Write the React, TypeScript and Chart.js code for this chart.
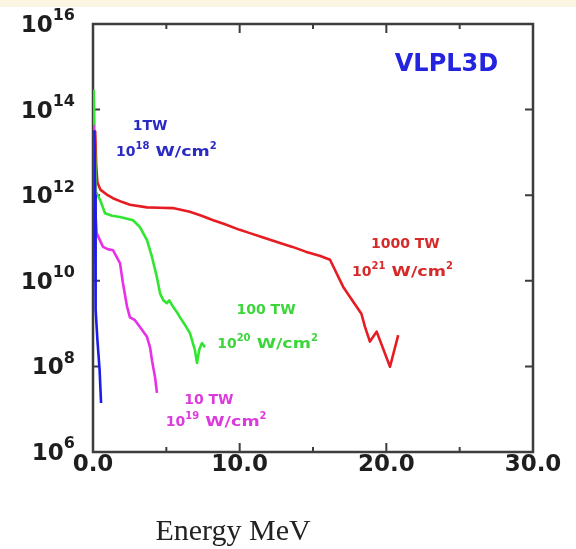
import React, { useEffect, useRef } from 'react';
import { Chart, registerables } from 'chart.js';

Chart.register(...registerables);

// ---- axis ticks ----
const energyTicks = [0, 5, 10, 15, 20, 25, 30];
const energyTickLabels = ['0.0', '', '10.0', '', '20.0', '', '30.0'];
const countExponents = [6, 8, 10, 12, 14, 16];
const xAxisTitle = 'Energy MeV';
const chartTag = 'VLPL3D';

// ---- series: 1 TW (blue) ----
const blueEnergy = [0.1, 0.14, 0.16, 0.2, 0.3, 0.45, 0.55];
const blueCounts = [3.3e13, 1.0e12, 3.0e10, 2.1e9, 4.2e8, 8.3e7, 1.4e7];

// ---- series: 10 TW (magenta) ----
const magentaEnergy = [0.03, 0.1, 0.15, 0.25, 0.68, 1.0, 1.36, 1.84, 2.04, 2.32, 2.52, 2.86, 3.2, 3.68, 3.89, 4.02, 4.23, 4.36];
const magentaCounts = [4.4e13, 1.0e13, 5.0e11, 1.3e11, 6.2e10, 5.5e10, 5.2e10, 2.6e10, 8.9e9, 2.5e9, 1.4e9, 1.2e9, 8.3e8, 4.9e8, 2.8e8, 1.4e8, 5.6e7, 2.4e7];

// ---- series: 100 TW (green) ----
const greenEnergy = [0.05, 0.1, 0.2, 0.48, 0.82, 1.3, 1.84, 2.73, 3.2, 3.68, 4.02, 4.36, 4.57, 4.8, 5.04, 5.2, 5.45, 5.7, 5.93, 6.3, 6.61, 6.95, 7.09, 7.25, 7.43, 7.63];
const greenCounts = [2.9e14, 3.0e13, 1.2e12, 7.8e11, 3.8e11, 3.3e11, 3.1e11, 2.6e11, 1.8e11, 8.9e10, 3.6e10, 1.2e10, 5.1e9, 3.5e9, 3.0e9, 3.5e9, 2.5e9, 1.9e9, 1.4e9, 9.0e8, 6.0e8, 2.4e8, 1.2e8, 2.5e8, 3.5e8, 2.8e8];

// ---- series: 1000 TW (red) ----
const redEnergy = [0.15, 0.22, 0.3, 0.5, 1.0, 1.36, 2.0, 2.52, 3.68, 4.5, 5.45, 6.6, 7.4, 8.2, 9.0, 10.0, 10.7, 11.5, 12.75, 13.6, 14.5, 15.5, 16.16, 17.06, 18.3, 18.54, 18.88, 19.34, 20.25, 20.81];
const redCounts = [3.2e13, 5.0e12, 2.0e12, 1.35e12, 1.0e12, 8.5e11, 6.9e11, 6.0e11, 5.2e11, 5.1e11, 5.0e11, 4.1e11, 3.3e11, 2.6e11, 2.1e11, 1.55e11, 1.3e11, 1.05e11, 7.6e10, 6.2e10, 4.8e10, 3.8e10, 3.1e10, 7.2e9, 1.7e9, 8.5e8, 3.8e8, 6.5e8, 9.8e7, 5.4e8];

const seriesNames = ['1TW', '10 TW', '100 TW', '1000 TW'];
const seriesIntensityExp = ['18', '19', '20', '21'];
const seriesColors = ['#1c1ce6', '#e830e8', '#30e630', '#e61c22'];
const labelColors = ['#2a2ac4', '#dc3adc', '#3cd63c', '#d62a2a'];

const BOLD = '"DejaVu Sans", "Liberation Sans", sans-serif';

type Part = { t: string; sup?: boolean; sx?: number };

function toPoints(xs: number[], ys: number[]) {
  return xs.map((x, i) => ({ x, y: ys[i] }));
}

function drawRich(ctx: CanvasRenderingContext2D, parts: Part[], cx: number, cy: number, size: number, supSize: number, align: 'center' | 'right' | 'left') {
  ctx.save();
  ctx.textBaseline = 'middle';
  ctx.textAlign = 'left';
  const widths = parts.map((p) => {
    ctx.font = `bold ${p.sup ? supSize : size}px ${BOLD}`;
    return ctx.measureText(p.t).width * (p.sx || 1);
  });
  const total = widths.reduce((a, b) => a + b, 0);
  let x = align === 'center' ? cx - total / 2 : align === 'right' ? cx - total : cx;
  parts.forEach((p, i) => {
    ctx.font = `bold ${p.sup ? supSize : size}px ${BOLD}`;
    const y = p.sup ? cy - size * 0.42 : cy;
    if (p.sx && p.sx !== 1) {
      ctx.save();
      ctx.translate(x, y);
      ctx.scale(p.sx, 1);
      ctx.fillText(p.t, 0, 0);
      ctx.restore();
    } else {
      ctx.fillText(p.t, x, y);
    }
    x += widths[i];
  });
  ctx.restore();
}

const decorPlugin = {
  id: 'decor',
  beforeDraw(chart: any) {
    const ctx = chart.ctx as CanvasRenderingContext2D;
    ctx.save();
    ctx.fillStyle = '#ffffff';
    ctx.fillRect(0, 0, chart.width, chart.height);
    ctx.fillStyle = '#fbf6e4';
    ctx.fillRect(0, 0, chart.width, 7);
    ctx.restore();
  },
  beforeDatasetsDraw(chart: any) {
    const ctx = chart.ctx as CanvasRenderingContext2D;
    const { left, right, top, bottom } = chart.chartArea;
    const xs = chart.scales.x;
    const ys = chart.scales.y;
    ctx.save();
    ctx.strokeStyle = '#3d3d3d';
    ctx.lineWidth = 2.5;
    ctx.strokeRect(left, top, right - left, bottom - top);
    ctx.lineWidth = 2;
    xs.ticks.forEach((t: any) => {
      if (t.value <= xs.min || t.value >= xs.max) return;
      const px = xs.getPixelForValue(t.value);
      const len = t.value % 10 === 0 ? 9 : 5;
      ctx.beginPath();
      ctx.moveTo(px, bottom);
      ctx.lineTo(px, bottom - len);
      ctx.moveTo(px, top);
      ctx.lineTo(px, top + len);
      ctx.stroke();
    });
    ys.ticks.forEach((t: any) => {
      if (t.value <= ys.min || t.value >= ys.max) return;
      const py = ys.getPixelForValue(t.value);
      ctx.beginPath();
      ctx.moveTo(left, py);
      ctx.lineTo(left + 7, py);
      ctx.moveTo(right, py);
      ctx.lineTo(right - 8, py);
      ctx.stroke();
    });
    ctx.restore();
  },
  afterDraw(chart: any) {
    const ctx = chart.ctx as CanvasRenderingContext2D;
    const { bottom } = chart.chartArea;
    const xs = chart.scales.x;
    const ys = chart.scales.y;
    ctx.save();
    // x tick labels
    ctx.fillStyle = '#1e1e1e';
    ctx.font = `bold 23px ${BOLD}`;
    ctx.textAlign = 'center';
    ctx.textBaseline = 'middle';
    energyTicks.forEach((v, i) => {
      const lab = energyTickLabels[i];
      if (!lab) return;
      ctx.fillText(lab, xs.getPixelForValue(v), bottom + 13);
    });
    // y tick labels
    countExponents.forEach((e) => {
      const py = ys.getPixelForValue(Math.pow(10, e));
      drawRich(ctx, [{ t: '10' }, { t: String(e), sup: true }], 75, py + 2, 23, 16, 'right');
    });
    // axis title
    ctx.fillStyle = '#222222';
    ctx.font = '30px "Liberation Serif", "DejaVu Serif", serif';
    ctx.textAlign = 'center';
    ctx.textBaseline = 'alphabetic';
    ctx.fillText(xAxisTitle, 233, 540);
    // tag
    ctx.fillStyle = '#2424e0';
    ctx.font = `bold 24px ${BOLD}`;
    ctx.textAlign = 'center';
    ctx.textBaseline = 'middle';
    ctx.fillText(chartTag, xs.getPixelForValue(24.1), ys.getPixelForValue(Math.pow(10, 15.05)));
    // series annotations [name x, name logY, intensity x, intensity logY] in data coords
    const anchors: [number, number, number, number][] = [
      [3.9, 13.6, 5.0, 13.0],
      [7.9, 7.21, 8.4, 6.7],
      [11.8, 9.3, 11.9, 8.52],
      [21.3, 10.85, 21.1, 10.2],
    ];
    anchors.forEach((a, i) => {
      ctx.fillStyle = labelColors[i];
      const x1 = xs.getPixelForValue(a[0]);
      const y1 = ys.getPixelForValue(Math.pow(10, a[1]));
      drawRich(ctx, [{ t: seriesNames[i] }], x1, y1, 14, 10, 'center');
      const x2 = xs.getPixelForValue(a[2]);
      const y2 = ys.getPixelForValue(Math.pow(10, a[3]));
      drawRich(
        ctx,
        [{ t: '10' }, { t: seriesIntensityExp[i], sup: true }, { t: ' W/cm', sx: 1.25 }, { t: '2', sup: true }],
        x2,
        y2,
        14,
        10,
        'center'
      );
    });
    ctx.restore();
  },
};

export default function App() {
  const ref = useRef<HTMLCanvasElement | null>(null);
  useEffect(() => {
    if (!ref.current) return;
    const series = [
      toPoints(blueEnergy, blueCounts),
      toPoints(magentaEnergy, magentaCounts),
      toPoints(greenEnergy, greenCounts),
      toPoints(redEnergy, redCounts),
    ];
    const chart = new Chart(ref.current, {
      type: 'line',
      data: {
        datasets: series.map((d, i) => ({
          label: seriesNames[i],
          data: d,
          borderColor: seriesColors[i],
          backgroundColor: seriesColors[i],
          borderWidth: 2.6,
          pointRadius: 0,
          tension: 0,
          fill: false,
          borderJoinStyle: 'round' as const,
        })),
      },
      options: {
        responsive: false,
        animation: false,
        events: [],
        layout: { padding: { left: 0, right: 43, top: 24, bottom: 0 } },
        plugins: { legend: { display: false }, tooltip: { enabled: false } },
        scales: {
          x: {
            type: 'linear',
            min: 0,
            max: 30,
            grid: { display: false },
            border: { display: false },
            ticks: { display: false },
            afterBuildTicks: (s: any) => {
              s.ticks = energyTicks.map((v) => ({ value: v }));
            },
            afterFit: (s: any) => {
              s.height = 97;
            },
          },
          y: {
            type: 'logarithmic',
            min: 1e6,
            max: 1e16,
            grid: { display: false },
            border: { display: false },
            ticks: { display: false },
            afterBuildTicks: (s: any) => {
              s.ticks = countExponents.map((e) => ({ value: Math.pow(10, e) }));
            },
            afterFit: (s: any) => {
              s.width = 93;
            },
          },
        },
      },
      plugins: [decorPlugin],
    } as any);
    return () => chart.destroy();
  }, []);
  return (
    <div style={{ position: 'fixed', left: 0, top: 0, width: 576, height: 549, background: '#fff' }}>
      <canvas ref={ref} width={576} height={549} style={{ display: 'block' }} />
    </div>
  );
}
